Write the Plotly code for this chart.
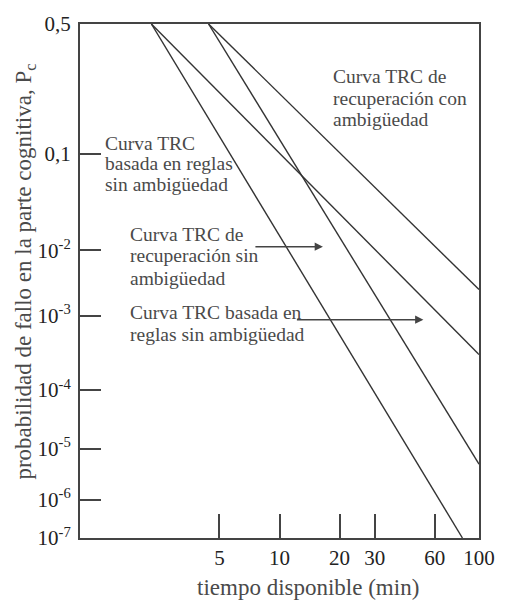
import numpy as np
import plotly.graph_objects as go

# ---------------- data ----------------
curvas = [
    "Curva TRC basada en reglas sin ambigüedad",
    "Curva TRC basada en reglas con ambigüedad",
    "Curva TRC de recuperación sin ambigüedad",
    "Curva TRC de recuperación con ambigüedad",
]
tiempo_inicio = [2.28, 2.28, 4.41, 4.41]          # min
prob_inicio = [0.5, 0.5, 0.5, 0.5]
tiempo_fin = [82.6, 100, 100, 100]                # min
prob_fin = [1e-7, 3.0e-4, 5.0e-6, 2.5e-3]

x_tick_vals = [5, 10, 20, 30, 60, 100]
x_tick_text = ["5", "10", "20", "30", "60", "100"]

y_tick_vals = [0.5, 0.1, 1e-2, 1e-3, 1e-4, 1e-5, 1e-6, 1e-7]
y_tick_text = ["0,5", "0,1", "10<sup>-2</sup>", "10<sup>-3</sup>", "10<sup>-4</sup>",
               "10<sup>-5</sup>", "10<sup>-6</sup>", "10<sup>-7</sup>"]

# The original's probability axis is schematic (decades are not evenly spaced);
# this scale places each decade where the original draws it.
ESCALA_Y_DECADAS = [1.0, 0.748, 0.5596, 0.4328, 0.2879, 0.1735, 0.0744, 0.0]


def escala_y(p):
    return np.interp(-np.log10(np.asarray(p, dtype=float)),
                     -np.log10(np.asarray(y_tick_vals)), ESCALA_Y_DECADAS)


# ---------------- layout helpers ----------------
W, H = 507, 604
PL, PT, PW, PH = 80, 14, 409, 524
FONT = "'Liberation Serif', 'Times New Roman', Times, 'DejaVu Serif', serif"
TXT = "#4a4a4a"
LINE = "#333333"


def px(xp):
    return (xp - PL) / PW


def py(yp):
    return (PT + PH - yp) / PH


fig = go.Figure()
for nombre, t0, p0, t1, p1 in zip(curvas, tiempo_inicio, prob_inicio, tiempo_fin, prob_fin):
    fig.add_trace(go.Scatter(
        x=[t0, t1], y=list(escala_y([p0, p1])), mode="lines", name=nombre,
        line=dict(color=LINE, width=1.4), hoverinfo="name",
    ))

annotations = []


def texto(lines, x_left, centers, size=19.5):
    for s, yc in zip(lines, centers):
        annotations.append(dict(
            text=s, xref="paper", yref="paper", x=px(x_left), y=py(yc),
            xanchor="left", yanchor="middle", showarrow=False,
            font=dict(family=FONT, size=size, color=TXT),
        ))


texto(["Curva TRC de", "recuperación con", "ambigüedad"], 337, [68, 89.5, 111])
texto(["Curva TRC", "basada en reglas", "sin ambigüedad"], 104, [136, 156.5, 177.5])
texto(["Curva TRC de", "recuperación sin", "ambigüedad"], 129, [228.5, 250.5, 273])
texto(["Curva TRC basada en", "reglas sin ambigüedad"], 129, [308.5, 330.5])


def flecha(x0, x1, y):
    annotations.append(dict(
        text="", xref="paper", yref="paper", x=px(x1), y=py(y),
        axref="pixel", ayref="pixel", ax=-(x1 - x0), ay=0,
        showarrow=True, arrowhead=2, arrowsize=1.1, arrowwidth=1.5,
        arrowcolor="#444444", standoff=0, startstandoff=0,
    ))


flecha(260, 329, 241)
flecha(304, 432, 315.5)

annotations.append(dict(
    text="probabilidad de fallo en la parte cognitiva, P<sub>c</sub>",
    xref="paper", yref="paper", x=px(24), y=py(266), textangle=-90,
    xanchor="center", yanchor="middle", showarrow=False,
    font=dict(family=FONT, size=23, color=TXT),
))
annotations.append(dict(
    text="tiempo disponible (min)",
    xref="paper", yref="paper", x=px(314), y=py(588),
    xanchor="center", yanchor="middle", showarrow=False,
    font=dict(family=FONT, size=23, color=TXT),
))

axis_common = dict(
    showline=True, linecolor="#444444", linewidth=2, mirror=True,
    ticks="inside", tickcolor="#444444", tickwidth=1.6,
    showgrid=False, zeroline=False,
    tickfont=dict(family=FONT, size=21, color="#222222"),
)

fig.update_layout(
    width=W, height=H,
    margin=dict(l=PL, r=W - PL - PW, t=PT, b=H - PT - PH, pad=0),
    paper_bgcolor="white", plot_bgcolor="white",
    showlegend=False,
    annotations=annotations,
    xaxis=dict(type="log", range=[0, 2], tickvals=x_tick_vals, ticktext=x_tick_text,
               ticklen=24, ticklabelstandoff=0, **axis_common),
    yaxis=dict(type="linear", range=[0, 1], tickvals=ESCALA_Y_DECADAS, ticktext=y_tick_text,
               ticklen=21, ticklabelstandoff=3, **axis_common),
)

fig.write_html("out.html")
